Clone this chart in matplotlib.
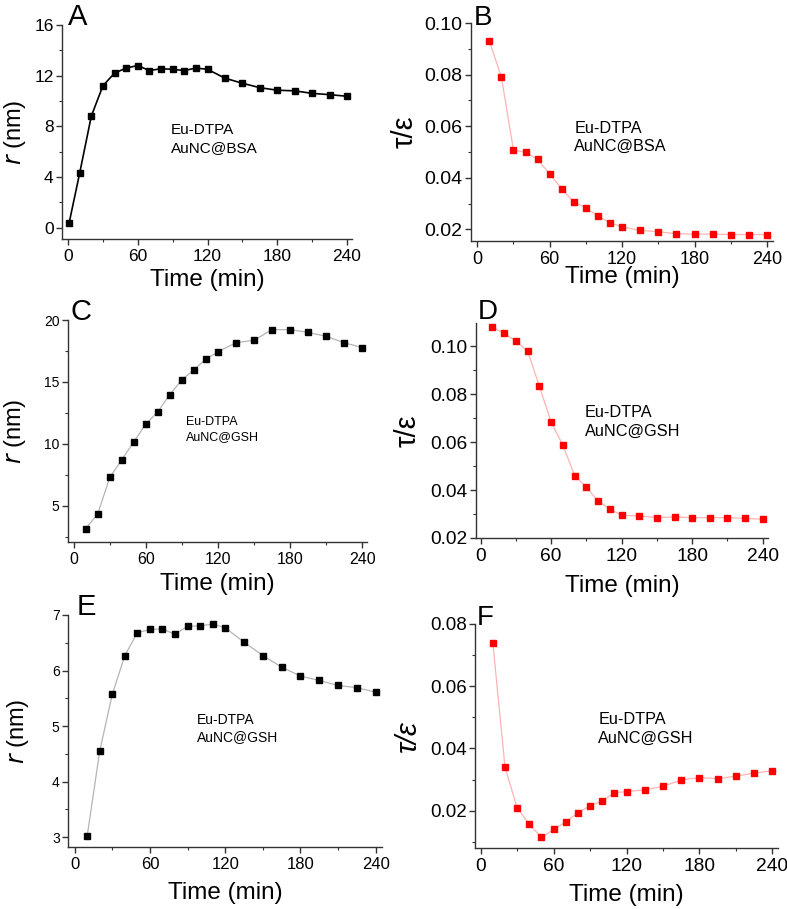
import matplotlib
matplotlib.use('Agg')
import matplotlib.pyplot as plt
from matplotlib.ticker import MultipleLocator

plt.rcParams['font.family'] = ['Liberation Sans', 'DejaVu Sans']

# time points (min)
t_a = [1, 10, 20, 30, 40, 50, 60, 70, 80, 90, 100, 110, 120, 135, 150, 165, 180, 195, 210, 225, 240]
t = [10, 20, 30, 40, 50, 60, 70, 80, 90, 100, 110, 120, 135, 150, 165, 180, 195, 210, 225, 240]

r_bsa = [0.4, 4.3, 8.8, 11.2, 12.2, 12.6, 12.8, 12.4, 12.55, 12.5, 12.4, 12.6, 12.5,
         11.8, 11.4, 11.05, 10.85, 10.8, 10.6, 10.5, 10.37]
te_bsa = [0.093, 0.079, 0.0507, 0.0499, 0.0471, 0.0415, 0.0357, 0.0306, 0.0284, 0.0251,
          0.0226, 0.021, 0.0196, 0.0191, 0.0183, 0.0182, 0.0182, 0.018, 0.018, 0.018]
r_gsh1 = [3.15, 4.33, 7.28, 8.71, 10.16, 11.59, 12.58, 13.98, 15.16, 15.97, 16.85, 17.42,
          18.17, 18.36, 19.22, 19.22, 19.0, 18.68, 18.17, 17.77]
te_gsh1 = [0.1079, 0.1054, 0.1021, 0.0979, 0.0833, 0.0683, 0.0587, 0.046, 0.0412, 0.0353,
           0.0321, 0.0295, 0.0292, 0.0285, 0.0288, 0.0285, 0.0285, 0.0285, 0.0282, 0.0278]
r_gsh2 = [3.02, 4.55, 5.57, 6.27, 6.68, 6.74, 6.75, 6.65, 6.8, 6.8, 6.84, 6.77, 6.51,
          6.27, 6.06, 5.9, 5.82, 5.73, 5.69, 5.61]
te_gsh2 = [0.0738, 0.0339, 0.0209, 0.0156, 0.0114, 0.014, 0.0164, 0.0193, 0.0216, 0.0231,
           0.0258, 0.0261, 0.0267, 0.0278, 0.0299, 0.0306, 0.0303, 0.0311, 0.0321, 0.0328]

W, H = 787, 909
fig = plt.figure(figsize=(W / 100, H / 100), dpi=100)


def make_ax(l, r, t_, b):
    return fig.add_axes([l / W, 1 - b / H, (r - l) / W, (b - t_) / H])


panels = [
    dict(x=t_a, y=r_bsa, box=(62, 352, 25, 239), xlim=(-5.2, 244.3), ylim=(-0.9, 16),
         ymaj=4, ymin=2, lc='black', lw=1.2, mc='black', letter='A', lpos=(0.02, 1.0), lsz=21,
         note='Eu-DTPA\nAuNC@BSA', npos=(0.376, 0.54), nsz=11, ylab='r', ylx=-0.162,
         xly=-0.19, ytsz=12.5, xtsz=12.5),
    dict(x=t, y=te_bsa, box=(471, 773, 23, 241), xlim=(-5.2, 245), ylim=(0.0155, 0.1),
         ymaj=0.02, ymin=0.01, lc='#ffb3b3', lw=0.9, mc='red', letter='B', lpos=(0.01, 0.99),
         lsz=20, note='Eu-DTPA\nAuNC@BSA', npos=(0.342, 0.552), nsz=11.7, ylab='te',
         ylx=-0.219, xly=-0.165, ytsz=14, xtsz=13),
    dict(x=t, y=r_gsh1, box=(68, 367, 320, 542), xlim=(-4.7, 244), ylim=(2.07, 20),
         ymaj=5, ymin=2.5, lc='#b5b5b5', lw=0.9, mc='black', letter='C', lpos=(0.01, 1.0),
         lsz=21, note='Eu-DTPA\nAuNC@GSH', npos=(0.393, 0.568), nsz=9, ylab='r',
         ylx=-0.177, xly=-0.19, ytsz=10, xtsz=11.5),
    dict(x=t, y=te_gsh1, box=(476, 768, 323, 538), xlim=(-4, 244.6), ylim=(0.02, 0.1097),
         ymaj=0.02, ymin=0.01, lc='#ffb3b3', lw=0.9, mc='red', letter='D', lpos=(0.005, 1.02),
         lsz=20, note='Eu-DTPA\nAuNC@GSH', npos=(0.373, 0.619), nsz=11.7, ylab='te',
         ylx=-0.233, xly=-0.222, ytsz=13.8, xtsz=13.8),
    dict(x=t, y=r_gsh2, box=(68, 382, 615, 847), xlim=(-5.3, 245), ylim=(2.82, 7),
         ymaj=1, ymin=0.5, lc='#b5b5b5', lw=0.9, mc='black', letter='E', lpos=(0.028, 1.0),
         lsz=21, note='Eu-DTPA\nAuNC@GSH', npos=(0.41, 0.579), nsz=10, ylab='r',
         ylx=-0.159, xly=-0.2, ytsz=10, xtsz=12),
    dict(x=t, y=te_gsh2, box=(475, 778, 624, 848), xlim=(-4.7, 244.6), ylim=(0.008, 0.08),
         ymaj=0.02, ymin=0.01, lc='#ffb3b3', lw=0.9, mc='red', letter='F', lpos=(0.005, 0.995),
         lsz=20, note='Eu-DTPA\nAuNC@GSH', npos=(0.407, 0.608), nsz=11.7, ylab='te_it',
         ylx=-0.221, xly=-0.212, ytsz=13.5, xtsz=13.8),
]

for p in panels:
    ax = make_ax(*p['box'])
    ax.plot(p['x'], p['y'], '-', color=p['lc'], lw=p['lw'], zorder=2)
    ax.plot(p['x'], p['y'], 's', color=p['mc'], ms=4.2, mec=p['mc'], zorder=3)
    ax.set_xlim(*p['xlim'])
    ax.set_ylim(*p['ylim'])
    ax.xaxis.set_major_locator(MultipleLocator(60))
    ax.xaxis.set_minor_locator(MultipleLocator(30))
    ax.yaxis.set_major_locator(MultipleLocator(p['ymaj']))
    ax.yaxis.set_minor_locator(MultipleLocator(p['ymin']))
    if p['ymaj'] < 1:
        ax.yaxis.set_major_formatter(plt.FormatStrFormatter('%.2f'))
    for s in ['top', 'right']:
        ax.spines[s].set_visible(False)
    for s in ['left', 'bottom']:
        ax.spines[s].set_color('#333333')
        ax.spines[s].set_linewidth(1.0)
    ax.tick_params(which='major', direction='out', length=4, width=1.0, color='#333333')
    ax.tick_params(which='minor', direction='out', length=2.5, width=0.8, color='#333333')
    ax.tick_params(axis='y', labelsize=p['ytsz'], pad=2)
    ax.tick_params(axis='x', labelsize=p['xtsz'], pad=3)

    ax.set_xlabel('Time (min)', fontsize=17.5)
    ax.xaxis.set_label_coords(0.5, p['xly'])
    ax.xaxis.label.set_va('center')
    if p['ylab'] == 'r':
        ax.set_ylabel(r'$\mathit{r}$ (nm)', fontsize=17)
    elif p['ylab'] == 'te':
        ax.set_ylabel('τ/ε', fontsize=21)
    else:
        ax.set_ylabel('τ/ε', fontsize=21, style='italic')
    ax.yaxis.set_label_coords(p['ylx'], 0.5)
    ax.yaxis.label.set_va('center')

    ax.text(p['lpos'][0], p['lpos'][1], p['letter'], transform=ax.transAxes,
            fontsize=p['lsz'], va='baseline', ha='left')
    ax.text(p['npos'][0], p['npos'][1], p['note'], transform=ax.transAxes,
            fontsize=p['nsz'], va='top', ha='left', linespacing=1.3)

fig.savefig('out.png', dpi=100)
